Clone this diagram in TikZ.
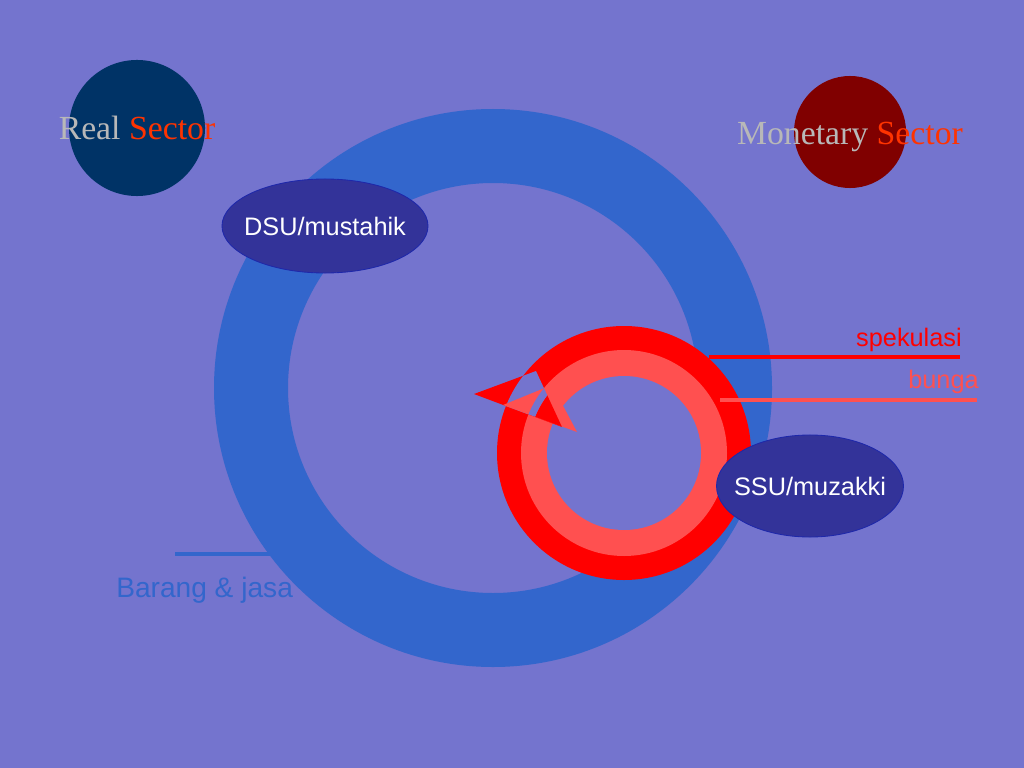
\documentclass[tikz,border=0pt]{standalone}
\usepackage{fontspec}
\setmainfont{Liberation Serif}
\setsansfont{Liberation Sans}
\usetikzlibrary{shapes.geometric}
\definecolor{bgcol}{RGB}{116,116,206}
\definecolor{ringblue}{RGB}{51,102,204}
\definecolor{navy}{RGB}{0,51,102}
\definecolor{maroon}{RGB}{128,0,0}
\definecolor{unitfill}{RGB}{51,51,153}
\definecolor{unitline}{RGB}{30,40,170}
\definecolor{lightred}{RGB}{255,80,80}
\definecolor{softgray}{RGB}{184,184,184}
\definecolor{sectred}{RGB}{255,51,0}
\tikzset{
  sector/.style={circle, inner sep=0pt},
  unit/.style={ellipse, fill=unitfill, draw=unitline, line width=0.6pt,
    text=white, font=\sffamily\fontsize{18}{20}\selectfont, inner ysep=0pt},
  title/.style={font=\rmfamily\fontsize{24}{26}\selectfont, anchor=base},
  flow/.style={font=\sffamily\fontsize{18}{20}\selectfont, anchor=base east, inner sep=0pt},
}
\begin{document}
\begin{tikzpicture}[x=0.025cm, y=-0.025cm]
  \useasboundingbox (0,0) rectangle (1024,768);
  \fill[bgcol] (0,0) rectangle (1024,768);
  % sector discs
  \node[sector, fill=navy, minimum size=3.4cm] (real) at (137,128) {};
  \node[sector, fill=maroon, minimum size=2.8cm] (monetary) at (850,132) {};
  % big ring
  \fill[ringblue, even odd rule] (493,388) circle (279) circle (205);
  \node[unit, inner xsep=-6pt, minimum width=5.15cm, minimum height=2.35cm] (dsu) at (325,226) {DSU/mustahik};
  % red ring
  \fill[red] (624,453) circle (127);
  \fill[lightred] (624,453) circle (103);
  \fill[bgcol] (624,453) circle (77);
  % arrow heads
  \fill[red] (474,394) -- (536,371) -- (562,427) -- cycle;
  \begin{scope}
    \clip (474,394) -- (536,371) -- (562,427) -- cycle;
    \fill[bgcol, even odd rule] (624,453) circle (127) circle (103);
  \end{scope}
  \fill[lightred] (503,405) -- (552,385) -- (577,432) -- cycle;
  \begin{scope}
    \clip (474,394) -- (536,371) -- (562,427) -- cycle;
    \clip (503,405) -- (552,385) -- (577,432) -- cycle;
    \fill[red] (624,453) circle (96);
    \fill[bgcol, even odd rule] (624,453) circle (103) circle (96);
  \end{scope}
  % flows
  \coordinate (spek0) at (709,357);
  \coordinate (spek1) at (960,357);
  \coordinate (bunga0) at (720,400);
  \coordinate (bunga1) at (977,400);
  \coordinate (barang0) at (175,554);
  \coordinate (barang1) at (270,554);
  \draw[red, line width=2.2pt] (spek0) -- (spek1);
  \draw[lightred, line width=2.2pt] (bunga0) -- (bunga1);
  \draw[ringblue, line width=2.2pt] (barang0) -- (barang1);
  \node[flow, text=red] (spekulasi) at (962,346) {spekulasi};
  \node[flow, text=lightred] (bunga) at (979,388) {bunga};
  \node[flow, anchor=base west, text=ringblue, font=\sffamily\fontsize{20}{22}\selectfont] (barang) at (116,597) {Barang \& jasa};
  \node[unit, inner xsep=-7pt, minimum width=4.65cm, minimum height=2.55cm] (ssu) at (810,486) {SSU/muzakki};
  % titles
  \node[title] (realtext) at (137,140) {\textcolor{softgray}{Real} \textcolor{sectred}{Sector}};
  \node[title] (montext) at (850,145) {\textcolor{softgray}{Monetary} \textcolor{sectred}{Sector}};
\end{tikzpicture}
\end{document}
